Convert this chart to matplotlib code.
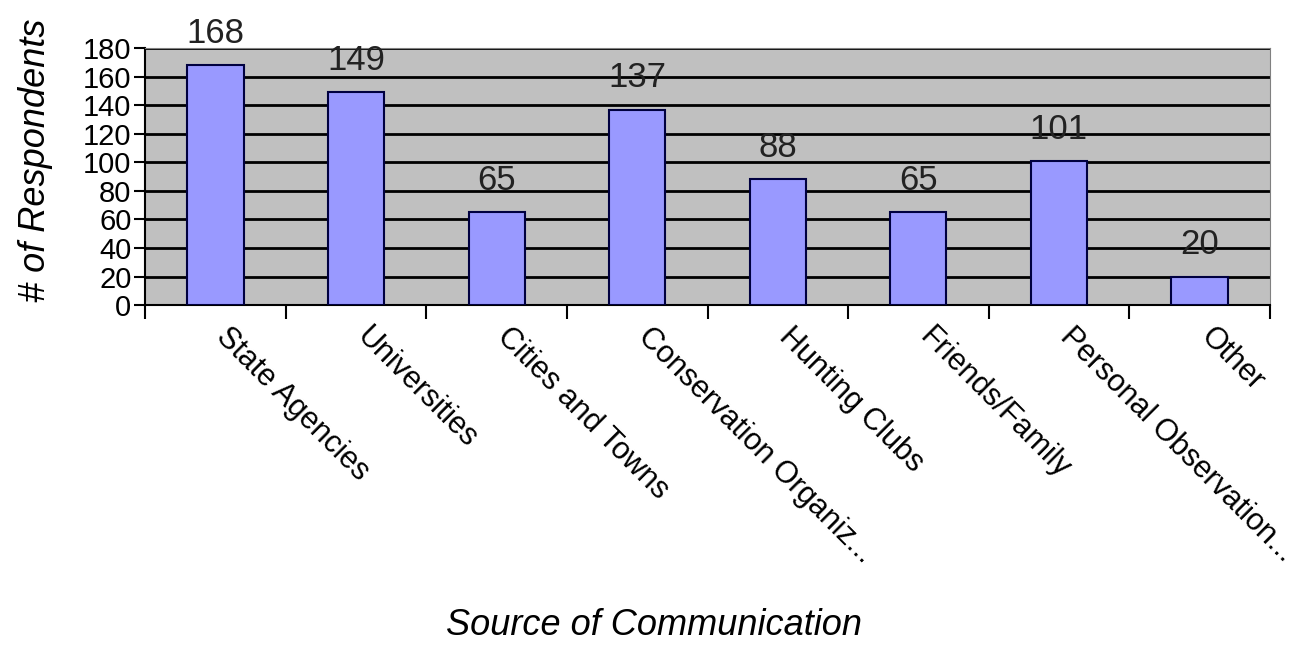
import matplotlib.pyplot as plt
import matplotlib.transforms as mtransforms
import numpy as np

plt.rcParams['font.family'] = ['Liberation Sans', 'DejaVu Sans']

# data
sources = ["State Agencies", "Universities", "Cities and Towns",
           "Conservation Organiz...", "Hunting Clubs", "Friends/Family",
           "Personal Observation...", "Other"]
respondents = [168, 149, 65, 137, 88, 65, 101, 20]
y_ticks = [0, 20, 40, 60, 80, 100, 120, 140, 160, 180]

fig = plt.figure(figsize=(13.09, 6.69), dpi=100)
ax = fig.add_axes([0.111, 0.544, 0.859, 0.384])
ax.set_facecolor('#c0c0c0')

x = np.arange(len(sources))
bars = ax.bar(x, respondents, width=0.4, color='#9999ff',
              edgecolor='#000040', linewidth=1.5, zorder=3)

for xi, v in zip(x, respondents):
    ax.annotate(str(v), (xi, v), xytext=(0, 11), textcoords='offset points',
                ha='center', va='bottom', fontsize=25, color='#222222')

ax.set_xlim(-0.5, len(sources) - 0.5)
ax.set_ylim(0, 180)
ax.set_yticks(y_ticks)
ax.tick_params(axis='y', labelsize=21, length=8, width=1.5, pad=2)
ax.yaxis.grid(True, color='black', linewidth=2, zorder=1)
ax.set_axisbelow(True)

# labels at bar centres, tick marks at category boundaries
ax.set_xticks(x)
ax.set_xticklabels(sources, rotation=-45, ha='left', va='top',
                   rotation_mode='anchor', fontsize=22)
ax.tick_params(axis='x', which='major', length=0, pad=12)
shift = mtransforms.ScaledTranslation(0.16, 0, fig.dpi_scale_trans)
for lbl in ax.get_xticklabels():
    lbl.set_transform(lbl.get_transform() + shift)
ax.set_xticks(np.arange(len(sources) + 1) - 0.5, minor=True)
ax.tick_params(axis='x', which='minor', length=10, width=1.5)

for side in ['top', 'right']:
    ax.spines[side].set_color('#808080')
for side in ['left', 'bottom']:
    ax.spines[side].set_linewidth(1.5)

fig.text(0.027, 0.76, '# of Respondents', rotation=90, ha='center',
         va='center', fontsize=26, style='italic')
fig.text(0.5, 0.065, 'Source of Communication', ha='center', va='center',
         fontsize=26, style='italic')

fig.savefig('out.png', dpi=100)
